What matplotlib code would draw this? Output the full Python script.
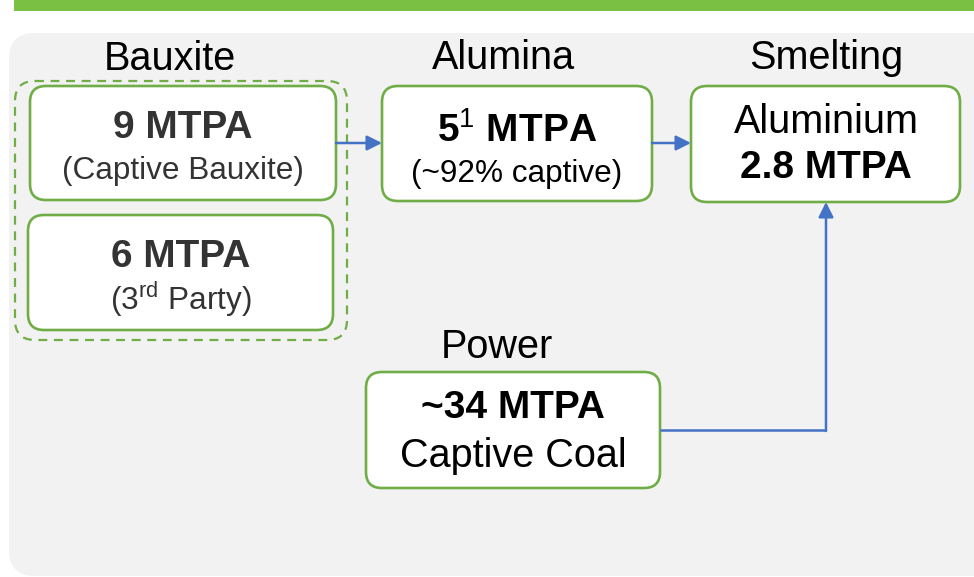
import matplotlib.pyplot as plt
from matplotlib.patches import FancyBboxPatch, Rectangle

plt.rcParams['font.family'] = ['Liberation Sans', 'DejaVu Sans']
plt.rcParams['mathtext.fontset'] = 'custom'
plt.rcParams['mathtext.rm'] = 'Liberation Sans'
plt.rcParams['mathtext.bf'] = 'Liberation Sans:bold'

# stage titles
stages = ['Bauxite', 'Alumina', 'Smelting', 'Power']
# box texts (main line, second line)
box_main = ['9 MTPA', '6 MTPA', r'5$^{\mathrm{1}}$ MTPA', 'Aluminium', '~34 MTPA']
box_sub = ['(Captive Bauxite)', r'(3$^{\mathrm{rd}}$ Party)', '(~92% captive)', '2.8 MTPA', 'Captive Coal']

green = '#70AD47'
blue = '#4472C4'

fig = plt.figure(figsize=(9.74, 5.77), dpi=100)
ax = fig.add_axes([0, 0, 1, 1])
ax.set_xlim(0, 974)
ax.set_ylim(577, 0)
ax.axis('off')

# top bar + grey panel
ax.add_patch(Rectangle((14, 0), 960, 11, color='#7AC143', lw=0))
ax.add_patch(FancyBboxPatch((9, 33), 990, 543, boxstyle='round,pad=0,rounding_size=26',
                            fc='#F2F2F2', ec='none'))

# dashed group around bauxite boxes
ax.add_patch(FancyBboxPatch((15, 81), 332, 259, boxstyle='round,pad=0,rounding_size=20',
                            fc='none', ec=green, lw=1.6, ls=(0, (4, 3))))

# boxes: x, y, w, h
boxes = [(30, 86, 306, 114), (28, 215, 305, 115), (382, 86, 270, 115),
         (691, 86, 269, 116), (366, 372, 294, 116)]
for (x, y, w, h) in boxes:
    ax.add_patch(FancyBboxPatch((x, y), w, h, boxstyle='round,pad=0,rounding_size=16',
                                fc='white', ec=green, lw=1.9))

# titles
title_pos = [(170, 59), (503, 58), (826, 58), (497, 347)]
for s, (x, y) in zip(stages, title_pos):
    ax.text(x, y, s, fontsize=28.5, ha='center', va='center', color='black')

# box texts
main_pos = [(183, 128), (181, 257), (517, 131), (826, 122), (513, 408)]
sub_pos = [(183, 171), (181, 299), (517, 174), (826, 168), (513, 456)]
main_bold = [True, True, True, False, True]
sub_bold = [False, False, False, True, False]
main_size = [28, 28, 28, 28.5, 28]
sub_size = [22.7, 22.7, 22.7, 28, 28.5]
txt_col = ['#333333', '#333333', 'black', 'black', 'black']
for i in range(len(box_main)):
    ax.text(main_pos[i][0], main_pos[i][1], box_main[i], fontsize=main_size[i],
            fontweight='bold' if main_bold[i] else 'normal', ha='center', va='center',
            color=txt_col[i])
    ax.text(sub_pos[i][0], sub_pos[i][1], box_sub[i], fontsize=sub_size[i],
            fontweight='bold' if sub_bold[i] else 'normal', ha='center', va='center',
            color=txt_col[i])

# connectors
arr = dict(arrowstyle='-|>,head_length=0.9,head_width=0.45', color=blue, lw=1.8,
           shrinkA=0, shrinkB=0)
ax.annotate('', xy=(382, 143), xytext=(336, 143), arrowprops=arr)
ax.annotate('', xy=(691, 143), xytext=(652, 143), arrowprops=arr)
ax.plot([660, 826], [430, 430], color=blue, lw=1.8, solid_capstyle='butt')
ax.annotate('', xy=(826, 202), xytext=(826, 431), arrowprops=arr)

fig.savefig('out.png', dpi=100)
